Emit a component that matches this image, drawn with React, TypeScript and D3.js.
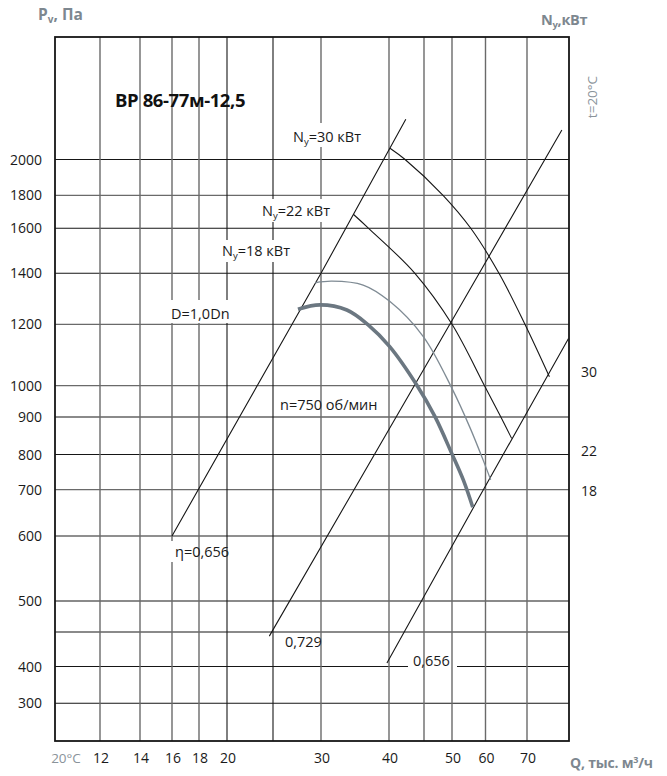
import React from "react";
import * as d3 from "d3";

// ---- Axis grid values ----
const qGrid = [12, 14, 16, 18, 20, 25, 30, 40, 45, 50, 60, 70];
const qLabels = ["12", "14", "16", "18", "20", "", "30", "40", "", "50", "60", "70"];
const qGrey = [true, true, true, true, false, false, true, true, true, true, true, true];

const pGrid = [300, 400, 450, 500, 600, 700, 800, 900, 1000, 1200, 1400, 1600, 1800, 2000];
const pLabels = ["300", "400", "", "500", "600", "700", "800", "900", "1000", "1200", "1400", "1600", "1800", "2000"];
const pGrey = [false, false, false, false, true, true, false, false, true, true, false, false, true, false];

// ---- Efficiency rays (Q, P) ----
const etaA: [number, number][] = [[16, 600], [30, 1400], [42.4, 2225]];
const etaB: [number, number][] = [[24.6, 444], [50, 1215], [78.4, 2165]];
const etaC: [number, number][] = [[39.7, 405], [57.6, 677], [80, 1154]];

// ---- Power curves (Q, P) ----
const ny30: [number, number][] = [[40.14, 2063], [42.3, 2000], [48.4, 1800], [55.6, 1600], [63.25, 1400], [69.5, 1200], [75.4, 1029]];
const ny22: [number, number][] = [[34.75, 1685], [37.0, 1600], [43.7, 1400], [50.0, 1200], [59.7, 1000], [63.7, 900], [66.3, 843]];

// ---- Fan curves (Q, P) ----
const thinCurve: [number, number][] = [[29.4, 1363], [31.6, 1369], [36.2, 1354], [40.1, 1290], [44.9, 1160], [49.95, 993], [55.4, 871], [59.3, 784], [61.25, 728]];
const thickCurve: [number, number][] = [[27.6, 1259], [29.9, 1276], [33.8, 1256], [36.9, 1199], [40.1, 1127], [43.96, 1002], [46.96, 901], [49.95, 803], [53.4, 727], [56.2, 662]];

// ---- Right side power labels ----
const nyRightLabels = ["30", "22", "18"];
const nyRightP = [1045, 809, 698];

export default function App() {
  const W = 667, H = 776;
  const L = 55, R = 569, T = 37, B = 741;
  const X_RANGE = [100, 140, 172, 199, 227, 273, 321, 389, 424, 452, 485.5, 527];
  const Y_RANGE = [703.3, 666.5, 632, 601, 536, 489.7, 454.5, 417, 385.7, 324.3, 273.3, 228.3, 195.3, 159.5];
  const x = d3.scaleLinear().domain(qGrid).range(X_RANGE);
  const y = d3.scaleLinear().domain(pGrid).range(Y_RANGE);

  const straight = d3.line<[number, number]>().x(d => x(d[0])).y(d => y(d[1]));
  const smooth = d3.line<[number, number]>().x(d => x(d[0])).y(d => y(d[1])).curve(d3.curveCatmullRom.alpha(0.5));

  const black = "#161616";
  const grey = "#6a6a6a";
  const txt = "#1a1a1a";
  const axisGrey = "#7d878f";
  const font = "'Open Sans', sans-serif";

  return (
    <svg width={W} height={H} style={{ position: "absolute", left: 0, top: 0, background: "#fff" }} fontFamily={font}>
      <rect x={0} y={0} width={W} height={H} fill="#fff" />
      {/* horizontal grid */}
      {pGrid.map((p, i) => (
        <line key={"h" + p} x1={L} x2={R} y1={y(p)} y2={y(p)} stroke={pGrey[i] ? grey : black} strokeWidth={pGrey[i] ? 1.3 : 1.1} />
      ))}
      {/* bg cutting horizontals only */}
      <rect x={408} y={656} width={49} height={16} fill="#fff" />
      {/* vertical grid */}
      {qGrid.map((q, i) => (
        <line key={"v" + q} x1={x(q)} x2={x(q)} y1={T} y2={B} stroke={qGrey[i] ? grey : black} strokeWidth={qGrey[i] ? 1.4 : 1.1} />
      ))}
      {/* label backgrounds */}
      <rect x={290} y={123} width={76} height={24} fill="#fff" />
      <rect x={259} y={199} width={74} height={23} fill="#fff" />
      <rect x={219} y={240} width={76} height={22} fill="#fff" />
      <rect x={168} y={300} width={64} height={23} fill="#fff" />
      <rect x={167} y={541} width={8} height={21} fill="#fff" />

      {/* efficiency rays */}
      {[etaA, etaB, etaC].map((d, i) => (
        <path key={"eta" + i} d={straight(d) || ""} fill="none" stroke={black} strokeWidth={1.1} />
      ))}
      {/* power curves */}
      {[ny30, ny22].map((d, i) => (
        <path key={"ny" + i} d={smooth(d) || ""} fill="none" stroke={black} strokeWidth={1.1} />
      ))}
      {/* fan curves */}
      <path d={smooth(thinCurve) || ""} fill="none" stroke="#7f8b94" strokeWidth={1.3} />
      <path d={smooth(thickCurve) || ""} fill="none" stroke="#6b7781" strokeWidth={3.6} strokeLinecap="butt" />

      {/* frame */}
      <rect x={L} y={T} width={R - L} height={B - T} fill="none" stroke={black} strokeWidth={1.8} />

      {/* y tick labels */}
      {pGrid.map((p, i) => pLabels[i] ? (
        <text key={"yl" + p} x={42} y={y(p) + 5} textAnchor="end" fontSize={14} fill={txt}>{pLabels[i]}</text>
      ) : null)}
      {/* x tick labels */}
      {qGrid.map((q, i) => qLabels[i] ? (
        <text key={"xl" + q} x={x(q) + 1} y={763} textAnchor="middle" fontSize={14} fill={txt}>{qLabels[i]}</text>
      ) : null)}
      <text x={66} y={763} textAnchor="middle" fontSize={13.5} fill="#8a939a">20°C</text>

      {/* right power labels */}
      {nyRightLabels.map((s, i) => (
        <text key={"nr" + s} x={581} y={y(nyRightP[i]) + 5} fontSize={14} fill={txt}>{s}</text>
      ))}

      {/* axis titles */}
      <text x={38} y={20} fontSize={15.5} fontWeight="bold" fill={axisGrey}>
        P<tspan fontSize={10} dy={3}>v</tspan><tspan dy={-3}>, Па</tspan>
      </text>
      <text x={541} y={25} fontSize={14.5} fontWeight="bold" fill={axisGrey} letterSpacing={-0.3}>
        N<tspan fontSize={9.5} dy={3}>y</tspan><tspan dy={-3}>,кВт</tspan>
      </text>
      <text x={570} y={768} fontSize={14} fontWeight="bold" fill={axisGrey} letterSpacing={-0.2}>
        Q, тыс. м<tspan fontSize={9} dy={-5}>3</tspan><tspan dy={5}>/ч</tspan>
      </text>
      <text transform="translate(597,97) rotate(-90)" textAnchor="middle" fontSize={13.5} fill="#8a939a">t=20°C</text>

      {/* title */}
      <text x={115} y={107} fontSize={18.5} fontWeight="bold" fill="#111" letterSpacing={-0.4}>ВР 86-77м-12,5</text>

      {/* annotations */}
      <text x={293} y={142} fontSize={14.5} fill={txt}>N<tspan fontSize={9.5} dy={3}>y</tspan><tspan dy={-3}>=30 кВт</tspan></text>
      <text x={262} y={216} fontSize={14.5} fill={txt}>N<tspan fontSize={9.5} dy={3}>y</tspan><tspan dy={-3}>=22 кВт</tspan></text>
      <text x={222} y={256} fontSize={14.5} fill={txt}>N<tspan fontSize={9.5} dy={3}>y</tspan><tspan dy={-3}>=18 кВт</tspan></text>
      <text x={171} y={319} fontSize={14.5} fill={txt}>D=1,0Dn</text>
      <text x={280} y={410} fontSize={14.5} fill={txt}>n=750 об/мин</text>
      <text x={175} y={557} fontSize={14.5} fill={txt}>η=0,656</text>
      <text x={285} y={647} fontSize={14.5} fill={txt}>0,729</text>
      <text x={413} y={666} fontSize={14.5} fill={txt}>0,656</text>
    </svg>
  );
}
